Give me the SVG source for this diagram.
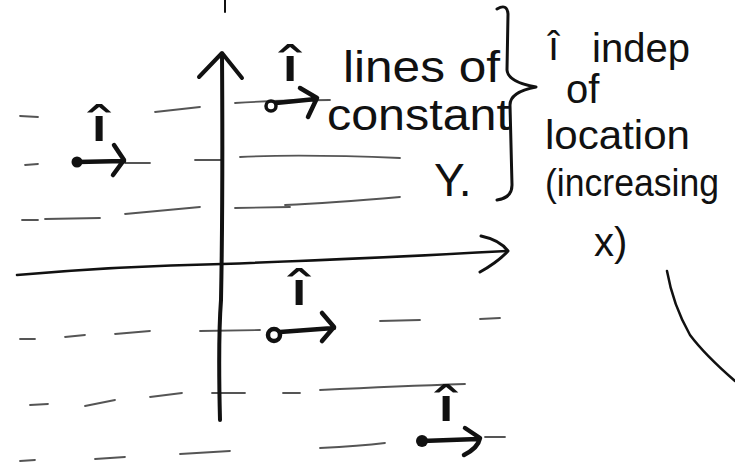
<svg xmlns="http://www.w3.org/2000/svg" width="735" height="462" viewBox="0 0 735 462">
<style>
.ax{fill:none;stroke:#111;stroke-linecap:round;stroke-linejoin:round}
.d{fill:none;stroke:#555;stroke-width:1.8;stroke-linecap:round}
.v{fill:none;stroke:#111;stroke-width:4.5;stroke-linecap:round;stroke-linejoin:round}
.t{font-family:"Liberation Sans","DejaVu Sans",sans-serif;fill:#111}
.h{font-family:"DejaVu Sans",sans-serif;fill:#111;text-anchor:middle}
</style>
<rect width="735" height="462" fill="#fff"/>
<g id="dashes">
<path class="d" d="M20 116L38 117M155 112L200 107M235 103Q280 100 330 100"/>
<path class="d" d="M25 165L38 164M125 163L150 163M195 160L222 160M240 157Q300 154 400 158"/>
<path class="d" d="M22 220L38 220M45 219L100 218M125 214L200 207M235 208L290 207M285 205Q330 203 400 197"/>
<path class="d" d="M20 339L35 339M65 337L85 335M115 334L150 331M200 331L260 330M380 321L420 320M480 319L500 318"/>
<path class="d" d="M30 405L48 404M85 406L115 400M150 397L182 393M212 393L245 393M283 393L300 393M320 390Q400 386 465 384"/>
<path class="d" d="M20 461L35 460M95 459L125 457M180 454L230 451M320 448Q360 446 385 443M485 437L505 437"/>
</g>
<g id="axes">
<path class="ax" stroke-width="2" d="M225 0L225 12"/>
<path class="ax" stroke-width="4" d="M222 54Q223 200 221 300Q218 340 220 420"/>
<path class="ax" stroke-width="4" d="M199 77L222 53L242 78"/>
<path class="ax" stroke-width="2.6" d="M17 275Q120 266 222 264Q380 258 507 251"/>
<path class="ax" stroke-width="3" d="M481 236Q500 240 508 251Q498 262 480 272"/>
</g>
<g id="vec1">
<circle cx="77" cy="162" r="5.5" fill="#111"/>
<path class="v" d="M77 162L124 161M114 145L124 160L113 175"/>
<text class="h" font-size="46" transform="translate(99 141) scale(1.7 1)">î</text>
</g>
<g id="vec2">
<circle cx="271" cy="106" r="5" fill="none" stroke="#111" stroke-width="3.5"/>
<path class="v" d="M276 103L316 99M300 88L317 98L308 117"/>
<text class="h" font-size="46" transform="translate(290 81) scale(1.7 1)">î</text>
</g>
<g id="vec3">
<circle cx="274" cy="335" r="6" fill="none" stroke="#111" stroke-width="4.5"/>
<path class="v" d="M280 332L334 328M322 313L334 327L322 341"/>
<text class="h" font-size="46" transform="translate(299 305) scale(1.7 1)">î</text>
</g>
<g id="vec4">
<circle cx="422" cy="441" r="6" fill="#111"/>
<path class="v" d="M422 441L478 439M465 428L480 438Q478 448 464 455"/>
<text class="h" font-size="46" transform="translate(446 421) scale(1.7 1)">î</text>
</g>
<g id="label-lines">
<text class="t" x="343" y="82" font-size="44" textLength="157" lengthAdjust="spacingAndGlyphs">lines of</text>
<text class="t" x="327" y="130" font-size="44" textLength="183" lengthAdjust="spacingAndGlyphs">constant</text>
<text class="t" x="434" y="196" font-size="46">Y.</text>
</g>
<g id="brace">
<path class="ax" stroke-width="3" d="M497 9Q507 3 508 14L507 70Q508 82 536 87Q510 92 510 105L512 185Q512 198 497 200"/>
</g>
<g id="label-indep">
<text class="t" x="548" y="60" font-size="40">î</text>
<text class="t" x="592" y="62" font-size="40" textLength="98" lengthAdjust="spacingAndGlyphs">indep</text>
<text class="t" x="566" y="103" font-size="40">of</text>
<text class="t" x="545" y="149" font-size="40" textLength="145" lengthAdjust="spacingAndGlyphs">location</text>
<text class="t" x="545" y="196" font-size="38" textLength="174" lengthAdjust="spacingAndGlyphs">(increasing</text>
<text class="t" x="594" y="256" font-size="40">x)</text>
</g>
<g id="curve">
<path class="ax" stroke="#333" stroke-width="2.5" d="M667 271Q673 305 690 335Q705 355 735 381"/>
</g>
</svg>
